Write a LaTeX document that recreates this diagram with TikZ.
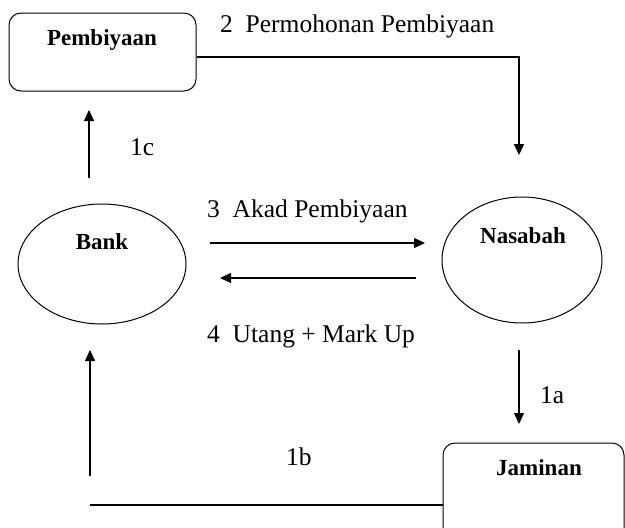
\documentclass[tikz,border=0pt]{standalone}
\usepackage{fontspec}
\setmainfont{Liberation Serif}
\usetikzlibrary{arrows.meta,shapes.geometric}
\begin{document}
\begin{tikzpicture}[x=1pt,y=-1pt,
  shape line/.style={draw=black,line width=1pt},
  roundbox/.style={shape line,rectangle,rounded corners=12pt,inner sep=0pt},
  oval/.style={shape line,ellipse,inner sep=0pt},
  arr/.style={line width=1.2pt,-{Triangle[length=11pt,width=10pt]}},
  plainline/.style={line width=1.2pt},
  lbl/.style={font=\fontsize{25.5}{30}\selectfont,inner sep=0pt,anchor=base west},
  blbl/.style={font=\fontsize{23}{28}\selectfont\bfseries,inner sep=0pt,anchor=base}]
\clip (0,0) rectangle (625,528);
\fill[white] (0,0) rectangle (625,528);

% boxes and ellipses
\node[roundbox,minimum width=187pt,minimum height=78pt] (pemb) at (102.5,52) {};
\node[blbl] (pembt) at (102,45) {Pembiyaan};
\node[oval,minimum width=168pt,minimum height=120pt] (bank) at (102,264) {};
\node[blbl] (bankt) at (102,249) {Bank};
\node[oval,minimum width=160pt,minimum height=126pt] (nas) at (522,260) {};
\node[blbl] (nast) at (523,243) {Nasabah};
\node[roundbox,minimum width=181pt,minimum height=130pt] (jam) at (533.5,508) {};
\node[blbl] (jamt) at (539,475) {Jaminan};

% free ends
\coordinate (c2) at (519,155);
\coordinate (c1cs) at (89,178);
\coordinate (c1ce) at (89,110);
\coordinate (c3s) at (210,243);
\coordinate (c3e) at (425,243);
\coordinate (c4s) at (416,278);
\coordinate (c4e) at (220,278);
\coordinate (c1as) at (519,350);
\coordinate (c1ae) at (519,424);
\coordinate (c1bl) at (90,505);
\coordinate (c1bs) at (90,476);
\coordinate (c1be) at (90,350);

% connectors
\draw[arr] ([yshift=-5pt]pemb.east) -| (c2);
\draw[arr] (c1cs) -- (c1ce);
\draw[arr] (c3s) -- (c3e);
\draw[arr] (c4s) -- (c4e);
\draw[arr] (c1as) -- (c1ae);
\draw[plainline] (jam.west |- c1bl) -- (c1bl);
\draw[arr] (c1bs) -- (c1be);

% labels
\node[lbl] (l2) at (220,32) {2\ \ Permohonan Pembiyaan};
\node[lbl] (l1c) at (130,155) {1c};
\node[lbl] (l3) at (207,217) {3\ \ Akad Pembiyaan};
\node[lbl] (l4) at (207,342) {4\ \ Utang + Mark Up};
\node[lbl] (l1a) at (540,403) {1a};
\node[lbl] (l1b) at (286,465) {1b};
\end{tikzpicture}
\end{document}
